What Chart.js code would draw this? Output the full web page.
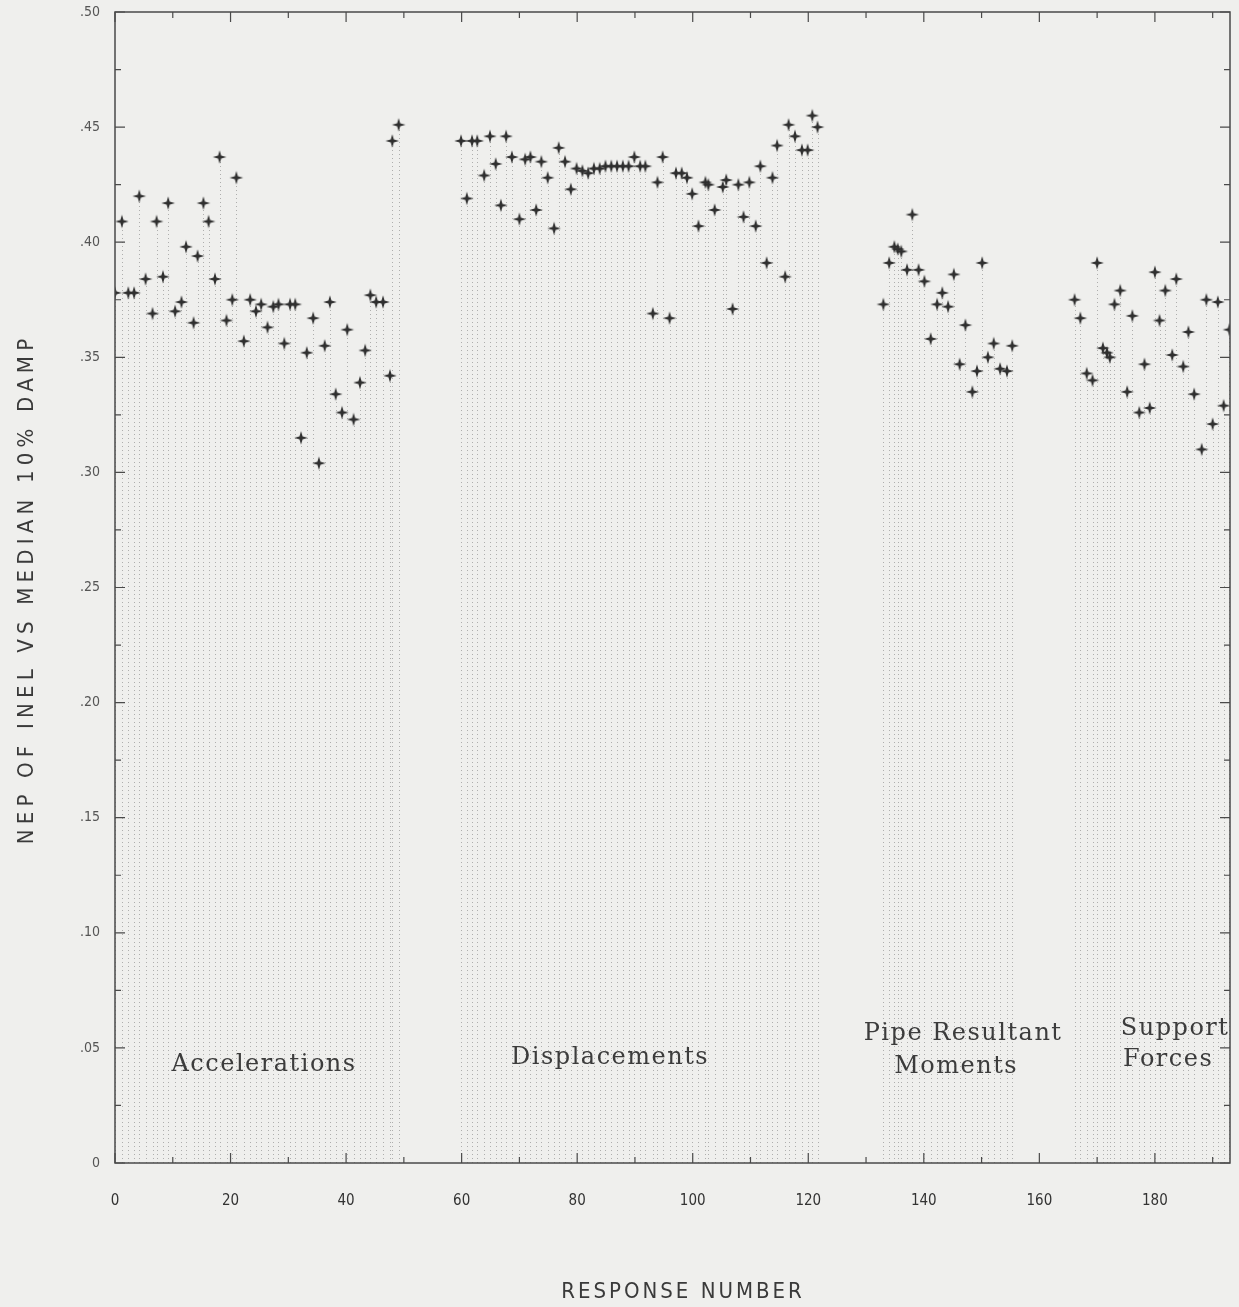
<!DOCTYPE html>
<html>
<head>
<meta charset="utf-8">
<title>NEP of INEL vs median 10% damp</title>
<script src="https://cdn.jsdelivr.net/npm/chart.js@4.4.1/dist/chart.umd.min.js"></script>
<style>
  html, body { margin: 0; padding: 0; background: #efefed; }
  #wrap { width: 1239px; height: 1307px; position: relative; }
</style>
</head>
<body>
<div id="wrap"><canvas id="nepChart"></canvas></div>
<script>
// response numbers and NEP values, one pair of arrays per response group
const accelX = [0, 1.2, 2.3, 3.3, 4.2, 5.3, 6.5, 7.2, 8.3, 9.2, 10.4, 11.5, 12.3, 13.6, 14.3, 15.3, 16.2, 17.3, 18.1, 19.3,
  20.3, 21.0, 22.3, 23.4, 24.4, 25.3, 26.4, 27.4, 28.3, 29.3, 30.3, 31.2, 32.2, 33.2, 34.3, 35.3, 36.3, 37.2, 38.2, 39.3,
  40.2, 41.3, 42.4, 43.3, 44.2, 45.2, 46.4, 47.6, 48.0, 49.1];
const accelY = [0.378, 0.409, 0.378, 0.378, 0.420, 0.384, 0.369, 0.409, 0.385, 0.417, 0.370, 0.374, 0.398, 0.365, 0.394, 0.417, 0.409, 0.384, 0.437, 0.366,
  0.375, 0.428, 0.357, 0.375, 0.370, 0.373, 0.363, 0.372, 0.373, 0.356, 0.373, 0.373, 0.315, 0.352, 0.367, 0.304, 0.355, 0.374, 0.334, 0.326,
  0.362, 0.323, 0.339, 0.353, 0.377, 0.374, 0.374, 0.342, 0.444, 0.451];

const dispX = [59.9, 60.9, 61.8, 62.7, 63.9, 64.9, 65.9, 66.8, 67.7, 68.7, 70.0, 71.0, 71.9, 72.9, 73.8, 74.9, 76.0, 76.8, 77.9, 78.9,
  79.9, 80.9, 81.9, 82.9, 83.9, 84.9, 85.9, 86.9, 87.9, 88.9, 89.9, 90.9, 91.8,
  93.1, 93.9, 94.8, 96.0, 97.1, 98.1, 99.0, 99.9, 101.0, 102.2, 102.7, 103.8, 105.2, 105.8, 106.9, 107.9, 108.8, 109.8,
  110.9, 111.7, 112.8, 113.8, 114.6, 116.0, 116.6, 117.7, 118.9, 119.9, 120.7, 121.6];
const dispY = [0.444, 0.419, 0.444, 0.444, 0.429, 0.446, 0.434, 0.416, 0.446, 0.437, 0.410, 0.436, 0.437, 0.414, 0.435, 0.428, 0.406, 0.441, 0.435, 0.423,
  0.432, 0.431, 0.430, 0.432, 0.432, 0.433, 0.433, 0.433, 0.433, 0.433, 0.437, 0.433, 0.433,
  0.369, 0.426, 0.437, 0.367, 0.430, 0.430, 0.428, 0.421, 0.407, 0.426, 0.425, 0.414, 0.424, 0.427, 0.371, 0.425, 0.411, 0.426,
  0.407, 0.433, 0.391, 0.428, 0.442, 0.385, 0.451, 0.446, 0.440, 0.440, 0.455, 0.450];

const pipeX = [133.0, 134.0, 134.9, 135.5, 136.1, 137.1, 138.0, 139.1, 140.1, 141.2, 142.3, 143.2, 144.2, 145.2, 146.2, 147.2,
  148.4, 149.2, 150.1, 151.1, 152.1, 153.2, 154.4, 155.3];
const pipeY = [0.373, 0.391, 0.398, 0.397, 0.396, 0.388, 0.412, 0.388, 0.383, 0.358, 0.373, 0.378, 0.372, 0.386, 0.347, 0.364,
  0.335, 0.344, 0.391, 0.350, 0.356, 0.345, 0.344, 0.355];

const suppX = [166.1, 167.1, 168.2, 169.2, 170.0, 171.0, 171.7, 172.2, 173.0, 174.0, 175.2, 176.1, 177.3, 178.2, 179.1,
  180.0, 180.8, 181.8, 183.0, 183.7, 184.9, 185.8, 186.8, 188.1, 188.9, 190.0, 190.9, 191.9, 192.9];
const suppY = [0.375, 0.367, 0.343, 0.340, 0.391, 0.354, 0.352, 0.350, 0.373, 0.379, 0.335, 0.368, 0.326, 0.347, 0.328,
  0.387, 0.366, 0.379, 0.351, 0.384, 0.346, 0.361, 0.334, 0.310, 0.375, 0.321, 0.374, 0.329, 0.362];

const xTickValues = [0, 20, 40, 60, 80, 100, 120, 140, 160, 180];
const yTickValues = [0, 0.05, 0.10, 0.15, 0.20, 0.25, 0.30, 0.35, 0.40, 0.45, 0.50];

const xTitle = 'RESPONSE NUMBER';
const yTitle = 'NEP OF INEL VS MEDIAN 10% DAMP';

// group captions, anchored in data units: [text, x, y]
const groupCaptions = [
  ['Accelerations', 25.8, 0.0426],
  ['Displacements', 85.7, 0.0456],
  ['Pipe Resultant', 146.8, 0.0560],
  ['Moments', 145.6, 0.0417],
  ['Support', 183.5, 0.0582],
  ['Forces', 182.3, 0.0447],
];

const toPoints = (xs, ys) => xs.map((x, i) => ({ x: x, y: ys[i] }));

// four pointed star marker
function makeStar(r, color) {
  const size = Math.ceil(r * 2 + 4);
  const c = document.createElement('canvas');
  c.width = size; c.height = size;
  const g = c.getContext('2d');
  g.filter = 'blur(0.5px)';
  g.translate(size / 2, size / 2);
  g.beginPath();
  for (let i = 0; i < 8; i++) {
    const a = i * Math.PI / 4 - Math.PI / 2;
    const rr = i % 2 ? r * 0.32 : r;
    g.lineTo(Math.cos(a) * rr, Math.sin(a) * rr);
  }
  g.closePath();
  g.fillStyle = color;
  g.fill();
  return c;
}
const star = makeStar(6.8, '#2f2f2f');

const bgPlugin = {
  id: 'paper',
  beforeDraw(chart) {
    const ctx = chart.ctx;
    ctx.save();
    ctx.fillStyle = '#efefed';
    ctx.fillRect(0, 0, chart.width, chart.height);
    ctx.restore();
  }
};

// dotted drop lines from zero up to each point
const stemPlugin = {
  id: 'stems',
  beforeDatasetsDraw(chart) {
    const { ctx, scales: { x, y } } = chart;
    const y0 = y.getPixelForValue(0);
    ctx.save();
    ctx.strokeStyle = 'rgba(110,110,110,0.5)';
    ctx.lineWidth = 1;
    ctx.setLineDash([1, 3]);
    chart.data.datasets.forEach(ds => {
      ds.data.forEach(p => {
        const px = Math.round(x.getPixelForValue(p.x)) + 0.5;
        ctx.beginPath();
        ctx.moveTo(px, y0);
        ctx.lineTo(px, y.getPixelForValue(p.y) + 5);
        ctx.stroke();
      });
    });
    ctx.restore();
  }
};

// frame with inward ticks on all four sides, axis titles and group captions
const framePlugin = {
  id: 'frame',
  afterDraw(chart) {
    const { ctx, chartArea: a, scales: { x, y } } = chart;
    ctx.save();
    ctx.strokeStyle = '#4a4a4a';
    ctx.lineWidth = 1.5;
    ctx.strokeRect(a.left, a.top, a.right - a.left, a.bottom - a.top);
    ctx.lineWidth = 1.2;
    for (let v = 0; v <= x.max; v += 10) {
      const px = x.getPixelForValue(v);
      const len = v % 20 === 0 ? 10 : 6;
      ctx.beginPath();
      ctx.moveTo(px, a.bottom); ctx.lineTo(px, a.bottom - len);
      ctx.moveTo(px, a.top); ctx.lineTo(px, a.top + len);
      ctx.stroke();
    }
    for (let k = 0; k <= 20; k++) {
      const py = y.getPixelForValue(k * 0.025);
      const len = k % 2 === 0 ? 10 : 6;
      ctx.beginPath();
      ctx.moveTo(a.left, py); ctx.lineTo(a.left + len, py);
      ctx.moveTo(a.right, py); ctx.lineTo(a.right - len, py);
      ctx.stroke();
    }

    ctx.fillStyle = '#3a3a3a';
    ctx.textAlign = 'center';
    ctx.textBaseline = 'middle';
    ctx.font = '22px "DejaVu Sans Condensed", "Liberation Sans", sans-serif';
    ctx.letterSpacing = '3px';
    ctx.fillText(xTitle, 683, 1292);
    ctx.save();
    ctx.translate(27, 589);
    ctx.rotate(-Math.PI / 2);
    ctx.letterSpacing = '5.2px';
    ctx.fillText(yTitle, 0, 0);
    ctx.restore();

    ctx.fillStyle = '#3c3c3c';
    ctx.font = '24px "DejaVu Serif", serif';
    ctx.letterSpacing = '1.5px';
    groupCaptions.forEach(([t, gx, gy]) => {
      ctx.fillText(t, x.getPixelForValue(gx), y.getPixelForValue(gy));
    });
    ctx.restore();
  }
};

const pointStyleOpts = { pointStyle: star, pointRadius: 7, pointHoverRadius: 7, showLine: false };

new Chart(document.getElementById('nepChart'), {
  type: 'scatter',
  data: {
    datasets: [
      { label: 'Accelerations', data: toPoints(accelX, accelY), ...pointStyleOpts },
      { label: 'Displacements', data: toPoints(dispX, dispY), ...pointStyleOpts },
      { label: 'Pipe Resultant Moments', data: toPoints(pipeX, pipeY), ...pointStyleOpts },
      { label: 'Support Forces', data: toPoints(suppX, suppY), ...pointStyleOpts },
    ]
  },
  options: {
    responsive: true,
    maintainAspectRatio: false,
    animation: false,
    layout: { autoPadding: false, padding: { left: 0, right: 9, top: 12, bottom: 0 } },
    plugins: { legend: { display: false }, tooltip: { enabled: false } },
    scales: {
      x: {
        type: 'linear',
        min: 0,
        max: 193,
        afterFit: (s) => { s.height = 144; s.paddingLeft = 0; s.paddingRight = 0; },
        afterBuildTicks: (s) => { s.ticks = xTickValues.map(v => ({ value: v })); },
        grid: { display: false, drawTicks: false },
        border: { display: false },
        ticks: {
          padding: 29,
          color: '#333',
          font: { family: '"DejaVu Sans Condensed", "Liberation Sans", sans-serif', size: 15 },
          maxRotation: 0,
          callback: (v) => String(v)
        }
      },
      y: {
        min: 0,
        max: 0.5,
        afterFit: (s) => { s.width = 115; s.paddingTop = 0; s.paddingBottom = 0; },
        afterBuildTicks: (s) => { s.ticks = yTickValues.map(v => ({ value: v })); },
        grid: { display: false, drawTicks: false },
        border: { display: false },
        ticks: {
          padding: 15,
          color: '#555',
          font: { family: '"DejaVu Sans Condensed", "Liberation Sans", sans-serif', size: 14 },
          callback: (v) => v === 0 ? '0' : v.toFixed(2).replace(/^0/, '')
        }
      }
    }
  },
  plugins: [bgPlugin, stemPlugin, framePlugin]
});
</script>
</body>
</html>
